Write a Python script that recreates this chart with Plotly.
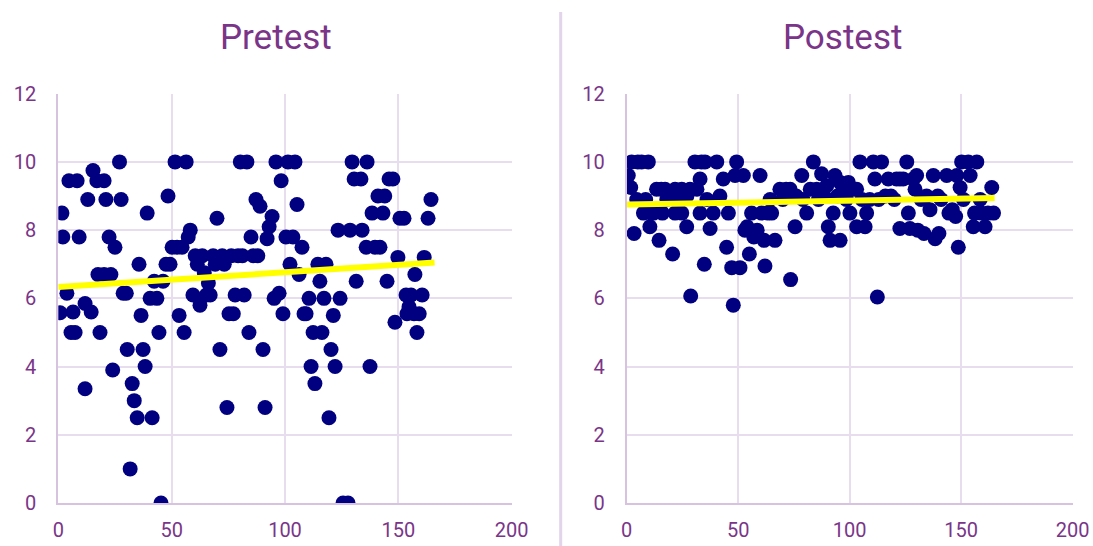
import plotly.graph_objects as go

# ---------------- data ----------------
pre_x = [0.8, 1.6, 2.0, 3.8, 4.7, 5.6, 6.5, 8.3, 9.2, 7.4, 11.8, 11.8, 13.0, 14.5, 15.3, 17.0, 17.5, 18.4,
         20.2, 21.0, 20.2, 22.4, 23.2, 24.0, 25.0, 27.0, 27.7, 28.6, 30.0, 30.4, 31.7, 32.6, 33.5, 34.8,
         35.6, 36.5, 37.4, 38.3, 39.2, 40.5, 41.4, 42.3, 43.5, 44.4, 45.3, 46.2, 47.5, 48.4, 49.3, 50.2,
         51.5, 52.4, 53.3, 54.6, 55.5, 56.4, 57.3, 58.2, 59.4, 60.4, 61.3, 62.5, 63.5, 64.4, 65.3, 66.2,
         67.0, 68.3, 69.2, 70.0, 71.3, 72.3, 73.2, 74.4, 75.3, 76.3, 77.2, 78.0, 79.3, 80.3, 81.2, 82.0,
         83.2, 84.1, 85.0, 86.0, 87.2, 88.0, 89.0, 90.3, 91.2, 92.1, 93.0, 94.3, 95.2, 96.0, 97.4, 98.3,
         99.1, 100.4, 101.3, 102.2, 103.5, 104.4, 105.3, 106.2, 107.5, 108.4, 109.3, 110.6, 111.5, 112.4,
         113.2, 114.5, 115.4, 116.3, 117.2, 118.1, 119.4, 120.3, 121.3, 122.1, 123.4, 124.3, 125.6, 127.8,
         128.7, 129.6, 130.5, 131.4, 133.5, 134.0, 136.2, 135.8, 137.5, 138.4, 139.7, 141.0, 141.9, 143.2,
         144.0, 145.0, 145.9, 147.6, 148.5, 149.8, 150.7, 152.5, 153.4, 153.8, 154.7, 155.6, 156.9, 157.3,
         158.2, 159.2, 160.5, 161.4, 163.1, 164.4]
pre_y = [5.58, 8.5, 7.8, 6.15, 9.45, 5.0, 5.6, 9.45, 7.8, 5.0, 5.85, 3.35, 8.9, 5.6, 9.75, 9.45, 6.7, 5.0,
         9.45, 8.9, 6.7, 7.8, 6.7, 3.9, 7.5, 10.0, 8.9, 6.15, 6.15, 4.5, 1.0, 3.5, 3.0, 2.5,
         7.0, 5.5, 4.5, 4.0, 8.5, 6.0, 2.5, 6.5, 6.0, 5.0, 0.0, 6.5, 7.0, 9.0, 7.0, 7.5,
         10.0, 7.5, 5.5, 7.5, 5.0, 10.0, 7.8, 8.0, 6.1, 7.25, 7.0, 5.8, 7.25, 6.75, 6.1, 6.45,
         6.1, 7.25, 7.0, 8.35, 4.5, 7.25, 7.0, 2.8, 5.55, 7.25, 5.55, 6.1, 7.25, 10.0, 7.25, 6.1,
         10.0, 5.0, 7.8, 7.25, 8.9, 7.25, 8.7, 4.5, 2.8, 7.75, 8.1, 8.4, 6.0, 10.0, 6.15, 9.45,
         5.55, 7.8, 10.0, 7.0, 7.8, 10.0, 8.75, 6.7, 7.5, 5.55, 5.55, 6.0, 4.0, 5.0,
         3.5, 7.0, 6.5, 5.0, 6.0, 7.0, 2.5, 4.5, 5.5, 4.0, 8.0, 6.0, 0.0, 0.0,
         8.0, 10.0, 9.5, 6.5, 9.5, 8.0, 10.0, 7.5, 4.0, 8.5, 7.5, 9.0, 7.5, 8.5,
         9.0, 6.5, 9.5, 9.5, 5.3, 7.2, 8.35, 8.35, 6.1, 5.55, 5.75, 6.1, 5.55, 6.7,
         5.0, 5.55, 6.1, 7.2, 8.35, 8.9]

post_pts = [(0.7, 9.6), (1.8, 9.25), (2.2, 10), (3.3, 7.9), (4.5, 8.9), (5, 10), (6.7, 10), (7.5, 8.5),
            (8.5, 8.9), (9.7, 10), (10.4, 8.1), (11, 8.5), (12, 8.5), (13.4, 9.2), (14.5, 7.7), (15.5, 9.2),
            (16, 8.5), (17.2, 9.2), (18, 8.9), (19.5, 9.0), (20.6, 7.3), (21.7, 9.2), (21.7, 8.5), (23, 8.9),
            (24.7, 9.2), (24.7, 8.5), (26.9, 8.1), (27, 9.0), (28.4, 9.2), (28.7, 6.07), (30.6, 10), (31.5, 9.2),
            (32.9, 9.5), (32.9, 8.5), (33.5, 10), (34.8, 7.0), (35.1, 10), (36, 8.9), (37.4, 8.05), (38.8, 8.5),
            (40.4, 10), (41.8, 9.0), (43.3, 9.5), (44.8, 7.5), (45.6, 8.5), (47.1, 6.9), (47.8, 5.8), (48.6, 9.6),
            (49.3, 10), (50.8, 6.9), (52.3, 9.6), (53, 8.0), (54, 8.1), (55, 7.3), (56, 8.5), (57, 7.8),
            (58.5, 8.0), (59.8, 9.6), (60.5, 8.5), (61.6, 7.7), (62, 6.95), (63, 8.5), (64.3, 8.9), (65, 8.5),
            (66.5, 7.7), (68.7, 9.2), (70, 8.9), (71.5, 9.2), (73.3, 9.2), (73.5, 6.55), (75.5, 8.1), (76, 9.0),
            (78.5, 9.6), (79, 8.9), (80.7, 8.5), (82.3, 9.2), (83.7, 10), (85.2, 9.2), (86, 8.9), (87.4, 9.65),
            (88.5, 9.0), (89.7, 9.3), (90.4, 8.1), (91.2, 7.7), (92.6, 8.5), (93.4, 9.6), (94.5, 9.0), (95.7, 9.4),
            (95.7, 7.7), (97, 9.2), (98.5, 8.9), (99.4, 9.4), (100.1, 8.5), (101.5, 9.2), (103.1, 9.2), (103.1, 8.1),
            (104.6, 10), (105.5, 8.9), (106.9, 8.1), (107.6, 8.5), (109, 8.9), (110.6, 10), (111.3, 9.5), (112.4, 6.04),
            (113, 8.9), (114.3, 10), (116, 9.0), (117.3, 9.5), (118.5, 9.0), (120, 8.9), (121, 9.5), (122.5, 9.5),
            (122.5, 8.05), (124, 9.5), (125.6, 10), (126.3, 8.5), (127, 8.05), (128.5, 9.5), (129.3, 9.2), (130, 9.6),
            (130.5, 8.0), (132, 8.9), (133.3, 7.9), (134.5, 9.0), (136, 8.6), (137.5, 9.6), (138.3, 7.75), (139.5, 9.0),
            (140, 7.9), (141, 8.9), (143.5, 9.6), (144.5, 8.5), (146, 8.6), (147.5, 8.4), (148, 9.6), (148.7, 7.5),
            (149.5, 9.25), (150.2, 10), (151, 8.9), (153.2, 10), (154, 9.6), (155.4, 8.1), (156, 8.5), (157, 10),
            (158.5, 8.9), (159, 8.5), (160.7, 8.1), (162, 8.5), (163.7, 9.25), (164.5, 8.5)]
post_x = [p[0] for p in post_pts]
post_y = [p[1] for p in post_pts]

# linear trend lines
pre_trend_x = [0, 166]
pre_trend_y = [6.33, 7.05]
post_trend_x = [0, 165]
post_trend_y = [8.75, 8.94]

titles = ["Pretest", "Postest"]
x_ticks = [0, 50, 100, 150, 200]
y_ticks = [0, 2, 4, 6, 8, 10, 12]

# ---------------- style ----------------
W, H = 1093, 546
NAVY = "#000080"
YELLOW = "#FFFF00"
PURPLE = "#7A3589"
GRID = "#E8DDEE"
AXIS = "#D7C3DF"
FONT = "Roboto, Arial"

fig = go.Figure()

fig.add_trace(go.Scatter(x=pre_x, y=pre_y, mode="markers", xaxis="x", yaxis="y",
                         marker=dict(color=NAVY, size=15, line=dict(width=0)), showlegend=False))
fig.add_trace(go.Scatter(x=pre_trend_x, y=pre_trend_y, mode="lines", xaxis="x", yaxis="y",
                         line=dict(color=YELLOW, width=6), showlegend=False))
fig.add_trace(go.Scatter(x=post_x, y=post_y, mode="markers", xaxis="x2", yaxis="y2",
                         marker=dict(color=NAVY, size=15, line=dict(width=0)), showlegend=False))
fig.add_trace(go.Scatter(x=post_trend_x, y=post_trend_y, mode="lines", xaxis="x2", yaxis="y2",
                         line=dict(color=YELLOW, width=6), showlegend=False))

ydom = [1 - 503 / H, 1 - 93.7 / H]
xdom1 = [58.3 / W, 511.7 / W]
xdom2 = [626.7 / W, 1072.7 / W]

def xaxis(dom, anchor):
    return dict(domain=dom, anchor=anchor, range=[0, 200], tickvals=x_ticks, automargin=False,
                showgrid=True, gridcolor=GRID, gridwidth=2, zeroline=False,
                showline=True, linecolor=AXIS, linewidth=2, mirror=False,
                ticks="", tickfont=dict(family=FONT, size=20, color=PURPLE), ticklabelstandoff=8)

def yaxis(anchor):
    return dict(domain=ydom, anchor=anchor, range=[0, 12], tickvals=y_ticks, automargin=False,
                showgrid=True, gridcolor=GRID, gridwidth=2, zeroline=False,
                showline=True, linecolor=AXIS, linewidth=2,
                ticks="", tickfont=dict(family=FONT, size=20, color=PURPLE), ticklabelstandoff=16)

fig.update_layout(
    width=W, height=H, margin=dict(l=0, r=0, t=0, b=0),
    paper_bgcolor="white", plot_bgcolor="white",
    xaxis=xaxis(xdom1, "y"), yaxis=yaxis("x"),
    xaxis2=xaxis(xdom2, "y2"), yaxis2=yaxis("x2"),
    annotations=[
        dict(text=titles[0], x=276 / W, y=1 - 38 / H, xref="paper", yref="paper",
             xanchor="center", yanchor="middle",
             showarrow=False, font=dict(family=FONT, size=35, color=PURPLE)),
        dict(text=titles[1], x=842 / W, y=1 - 38 / H, xref="paper", yref="paper",
             xanchor="center", yanchor="middle",
             showarrow=False, font=dict(family=FONT, size=35, color=PURPLE)),
    ],
    shapes=[dict(type="line", xref="paper", yref="paper", x0=560.7 / W, x1=560.7 / W,
                 y0=0, y1=1 - 12 / H, line=dict(color="#E2D4EA", width=3))],
)

fig.write_html("out.html", config={"displayModeBar": False},
               post_script="document.body.style.margin='0px';document.body.style.overflow='hidden';")
